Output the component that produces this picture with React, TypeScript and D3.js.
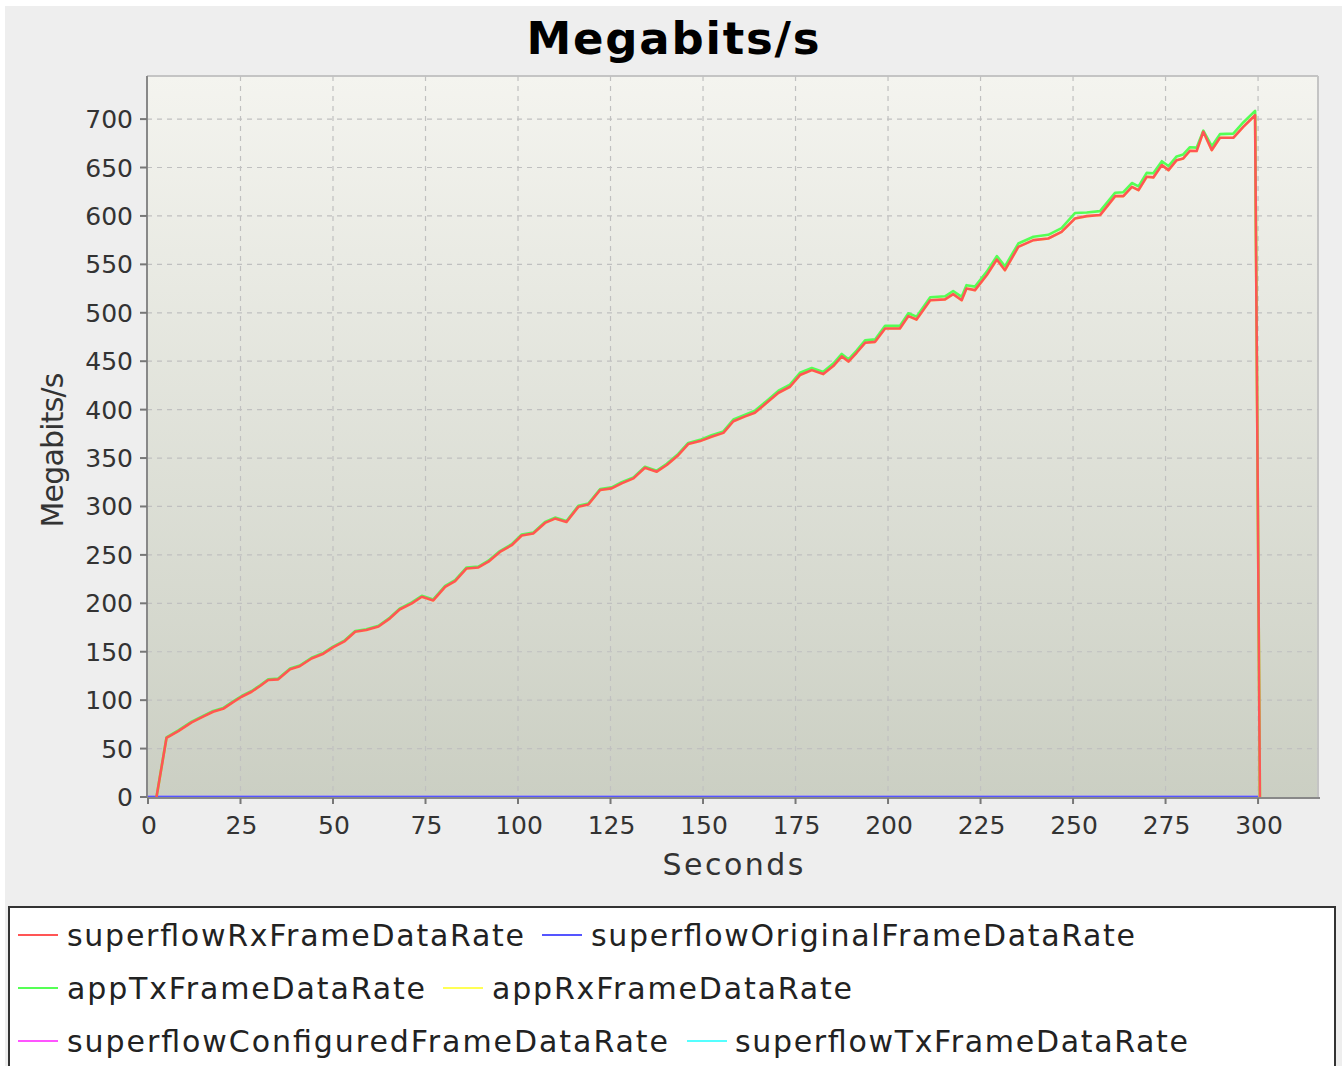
import React from "react";
import * as d3 from "d3";

// ---- Data ----
const seconds = [2.3, 5, 8.2, 11.8, 14.9, 17.6, 20.3, 23, 25.3, 28, 30.3, 32.5, 35.2, 38.4, 41, 44.2, 47.4, 50, 53.2, 56, 59, 62.3, 65.4, 68, 71.3, 74, 77.1, 80.3, 83, 86.1, 89.3, 92, 95.1, 98.3, 101, 104.1, 107.3, 110, 113.1, 116.3, 119, 122.2, 125.3, 128, 131.2, 134.3, 137.5, 140.2, 143.3, 146, 149.2, 152.3, 155.5, 158.2, 161.4, 164, 167.2, 170.4, 173.5, 176.2, 179.4, 182.5, 185.2, 187.5, 189.3, 191.5, 193.8, 196.5, 199.2, 203.2, 205.5, 207.7, 211.4, 215.4, 217.6, 219.9, 221.2, 223.5, 226.7, 229.4, 231.6, 235.2, 239.3, 243.3, 246.9, 250.5, 253.7, 257.3, 261.4, 263.6, 265.9, 267.7, 269.9, 271.7, 274, 275.8, 278, 279.8, 281.6, 283.4, 285.2, 287.5, 289.7, 293.3, 296, 299.2, 300.5];

const superflowRxFrameDataRate = [0, 61, 68, 77, 83, 88, 91, 98, 103.5, 108.7, 114.6, 120.8, 121.5, 131.8, 135, 143, 148, 154.5, 161, 170.7, 172.4, 176, 184.5, 193.6, 200, 206.8, 203, 217, 223, 236, 237, 243, 253, 260, 270, 272, 283, 287.5, 284, 299.6, 302, 317, 318.7, 323.8, 329, 340, 335.9, 342.8, 353, 364.4, 367.5, 372, 376, 388, 393, 396.8, 407, 417.4, 423.6, 435.7, 440.8, 436.7, 445, 455, 449.6, 458.7, 469, 470, 483.8, 483.8, 496.6, 493, 513, 513.8, 519.3, 513, 525, 523.4, 539, 555, 544, 568, 575, 576.7, 583.6, 597.3, 599.8, 600.9, 620.5, 620.5, 630, 626.6, 640.4, 639.8, 652.5, 647.3, 657.6, 659.4, 667.3, 667, 686.9, 668, 680.7, 680.7, 692, 704, 0];

const appTxFrameDataRate = [0, 61.5, 68.8, 77.8, 83.8, 88.8, 91.8, 98.8, 104.3, 109.5, 115.4, 121.6, 122.3, 132.6, 135.8, 143.8, 148.8, 155.3, 161.8, 171.5, 173.2, 176.8, 185.3, 194.5, 201, 207.8, 204, 218, 224, 237, 238, 244, 254, 261, 271, 273, 284, 288.5, 285, 300.6, 303, 318, 319.7, 325, 330, 341, 337, 344, 354.2, 365.6, 368.8, 373.5, 377.5, 389.8, 394.8, 398.8, 409, 419.5, 425.8, 438, 443, 439, 447.5, 457.5, 452, 461, 471.5, 472.5, 486.5, 486.5, 499.5, 496, 516, 517, 522.5, 516.5, 528.5, 527, 542.5, 558.5, 548, 571.5, 578.5, 580.5, 587.5, 603, 603.5, 605, 624, 624.5, 634, 630.5, 644.5, 644, 656.5, 651.5, 661.5, 663.5, 671, 670.5, 688, 672, 684.5, 685, 696.5, 708.5, 0];

const appRxFrameDataRate = superflowRxFrameDataRate.slice();

const zeroSeconds = [0, 300];
const superflowOriginalFrameDataRate = [0, 0];
const superflowConfiguredFrameDataRate = [0, 0];
const superflowTxFrameDataRate = [0, 0];

const xTicks = [0, 25, 50, 75, 100, 125, 150, 175, 200, 225, 250, 275, 300];
const yTicks = [0, 50, 100, 150, 200, 250, 300, 350, 400, 450, 500, 550, 600, 650, 700];

const seriesNames = [
  "superflowRxFrameDataRate",
  "superflowOriginalFrameDataRate",
  "appTxFrameDataRate",
  "appRxFrameDataRate",
  "superflowConfiguredFrameDataRate",
  "superflowTxFrameDataRate",
];
const seriesColors = ["#ff5555", "#5555ff", "#55ff55", "#ffff55", "#ff55ff", "#55ffff"];

const FONT = "'DejaVu Sans', sans-serif";

export default function App() {
  const left = 147, right = 1318, top = 76, bottom = 797;
  const x = d3.scaleLinear().domain([-0.27, 316.2]).range([left, right]);
  const y = d3.scaleLinear().domain([0, 744.5]).range([bottom, top]);

  const line = d3
    .line<[number, number]>()
    .x((d) => x(d[0]))
    .y((d) => y(d[1]));

  const zip = (ts: number[], vs: number[]) => ts.map((t, i) => [t, vs[i]] as [number, number]);

  const seriesData: [number, number][][] = [
    zip(seconds, superflowRxFrameDataRate),
    zip(zeroSeconds, superflowOriginalFrameDataRate),
    zip(seconds, appTxFrameDataRate),
    zip(seconds, appRxFrameDataRate),
    zip(zeroSeconds, superflowConfiguredFrameDataRate),
    zip(zeroSeconds, superflowTxFrameDataRate),
  ];
  // JFreeChart draws series in reverse order (first series on top)
  const renderOrder = [5, 4, 3, 2, 1, 0];

  const legendRows = [
    { y: 935, items: [{ i: 0, sx: 18, tx: 67, w: 457 }, { i: 1, sx: 542, tx: 591, w: 544 }] },
    { y: 988, items: [{ i: 2, sx: 18, tx: 67, w: 358 }, { i: 3, sx: 443, tx: 492, w: 360 }] },
    { y: 1041, items: [{ i: 4, sx: 18, tx: 67, w: 601 }, { i: 5, sx: 687, tx: 735, w: 453 }] },
  ];

  return (
    <svg
      width={1342}
      height={1066}
      style={{ position: "absolute", left: 0, top: 0, fontFamily: FONT }}
    >
      <defs>
        <linearGradient id="plotbg" x1="0" y1="0" x2="0" y2="1">
          <stop offset="0%" stopColor="#f4f4ef" />
          <stop offset="100%" stopColor="#cbcfc3" />
        </linearGradient>
        <clipPath id="plotclip">
          <rect x={left} y={top} width={right - left} height={bottom - top + 2} />
        </clipPath>
      </defs>
      <rect x={0} y={0} width={1342} height={1066} fill="#ffffff" />
      <rect x={5} y={6} width={1337} height={1060} fill="#eeeeee" />

      {/* title */}
      <text x={673} y={54} textAnchor="middle" fontSize={45} fontWeight="bold" fill="#000" textLength={293}>
        Megabits/s
      </text>

      {/* plot background */}
      <rect x={left} y={top} width={right - left} height={bottom - top} fill="url(#plotbg)" />
      <line x1={left} y1={top} x2={right} y2={top} stroke="#c4c4c4" strokeWidth={2} />
      <line x1={right} y1={top} x2={right} y2={bottom} stroke="#c4c4c4" strokeWidth={2} />

      {/* gridlines */}
      {xTicks.slice(1).map((t) => (
        <line key={"gx" + t} x1={x(t)} x2={x(t)} y1={top} y2={bottom} stroke="#c0c0c0" strokeWidth={1.2} strokeDasharray="5,5" />
      ))}
      {yTicks.slice(1).map((t) => (
        <line key={"gy" + t} x1={left} x2={right} y1={y(t)} y2={y(t)} stroke="#c0c0c0" strokeWidth={1.2} strokeDasharray="5,5" />
      ))}

      {/* series */}
      <g clipPath="url(#plotclip)">
        {renderOrder.map((i) => (
          <path
            key={"s" + i}
            d={line(seriesData[i]) || ""}
            fill="none"
            stroke={seriesColors[i]}
            strokeWidth={2.6}
            strokeLinejoin="round"
          />
        ))}
      </g>

      {/* axes */}
      <line x1={left} y1={top} x2={left} y2={bottom + 1} stroke="#888888" strokeWidth={2} />
      <line x1={left} y1={bottom + 1} x2={right + 2} y2={bottom + 1} stroke="#888888" strokeWidth={2} />
      {yTicks.map((t) => (
        <g key={"yt" + t}>
          <line x1={left - 7} x2={left} y1={y(t)} y2={y(t)} stroke="#777" strokeWidth={2} />
          <text x={133} y={y(t) + 9} textAnchor="end" fontSize={25} fill="#333">
            {t}
          </text>
        </g>
      ))}
      {xTicks.map((t) => (
        <g key={"xt" + t}>
          <line x1={x(t)} x2={x(t)} y1={bottom + 1} y2={bottom + 7} stroke="#777" strokeWidth={2} />
          <text x={x(t) + 1} y={834} textAnchor="middle" fontSize={25} fill="#333">
            {t}
          </text>
        </g>
      ))}

      {/* axis labels */}
      <text x={733} y={875} textAnchor="middle" fontSize={30} fill="#333" textLength={141}>
        Seconds
      </text>
      <text
        transform="translate(63,450) rotate(-90)"
        textAnchor="middle"
        fontSize={30}
        fill="#333"
        textLength={155}
      >
        Megabits/s
      </text>

      {/* legend */}
      <rect x={9} y={907} width={1326} height={170} fill="#ffffff" stroke="#333333" strokeWidth={2} />
      {legendRows.map((row, ri) => (
        <g key={"lr" + ri}>
          {row.items.map((it) => (
            <g key={"li" + it.i}>
              <line x1={it.sx} x2={it.sx + 40} y1={row.y} y2={row.y} stroke={seriesColors[it.i]} strokeWidth={2} />
              <text x={it.tx} y={row.y + 11} fontSize={30} fill="#222" textLength={it.w}>
                {seriesNames[it.i]}
              </text>
            </g>
          ))}
        </g>
      ))}
    </svg>
  );
}
